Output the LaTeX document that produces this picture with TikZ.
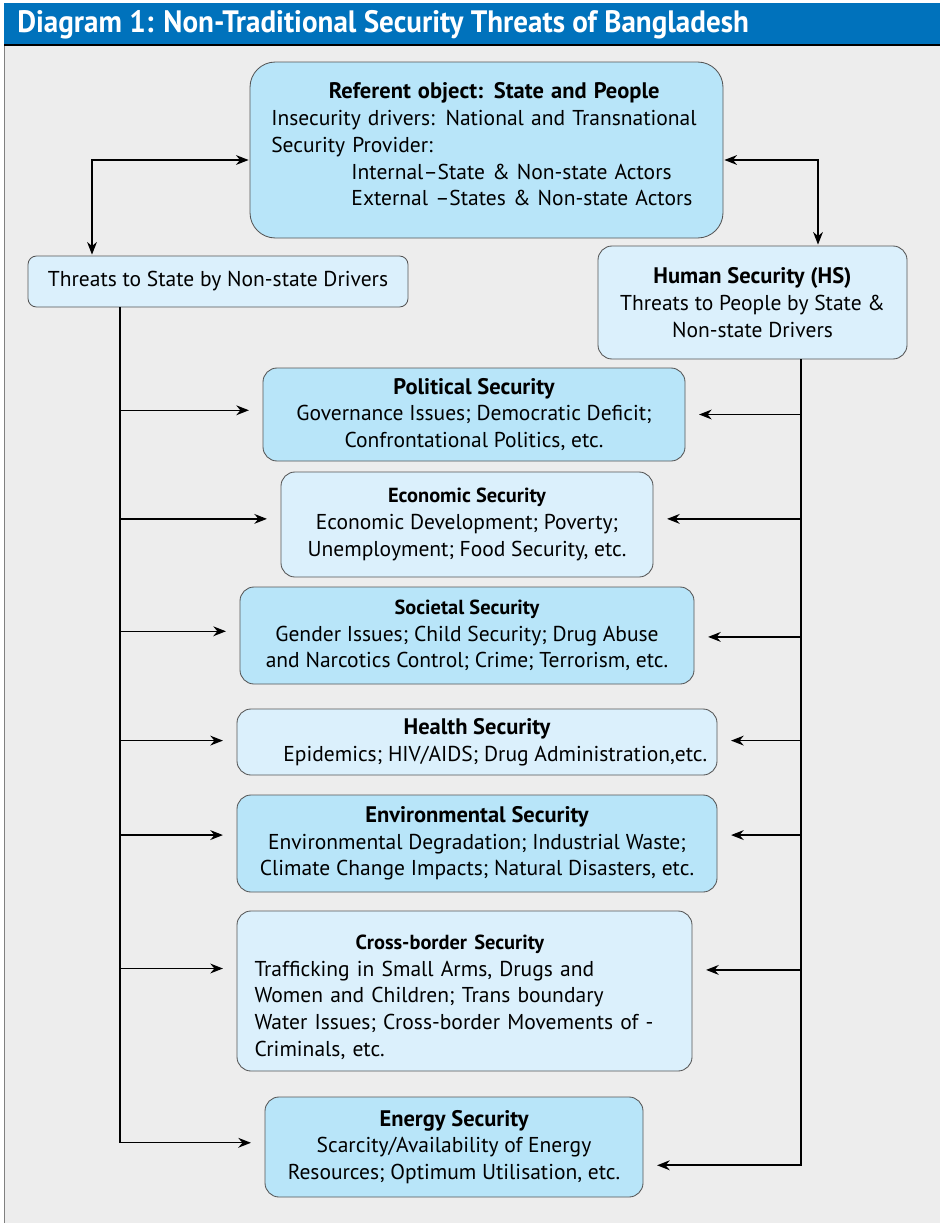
\documentclass[tikz,border=0pt]{standalone}
\usepackage{fontspec}
\setmainfont{PT Sans}
\usepackage{graphicx}
\usetikzlibrary{arrows.meta, positioning}
\definecolor{BDtitle}{HTML}{0072BC}
\definecolor{BDback}{HTML}{EDEDED}
\definecolor{BDdeep}{HTML}{B8E5F9}
\definecolor{BDpale}{HTML}{DBF0FC}
\definecolor{BDedge}{HTML}{555555}
\newlength\pxu
\setlength\pxu{0.025cm}
\newcommand\bodyfont{\fontsize{15.3}{19}\selectfont}
\newcommand\boldhead{\fontsize{16}{19}\selectfont\bfseries}
\newcommand\headfont{\fontsize{14.5}{19}\selectfont\bfseries}

\begin{document}
\begin{tikzpicture}[x=0.025cm, y=-0.025cm]
% ============================================================
%  Non-traditional security threats of Bangladesh
% ============================================================

\tikzset{
  card/.style={draw=BDedge, line width=0.6pt, rounded corners=10pt,
    anchor=north west, inner sep=0pt, outer sep=0pt,
    font=\bodyfont, align=center},
  deep/.style={card, fill=BDdeep},
  pale/.style={card, fill=BDpale},
  size/.style 2 args={minimum width=#1*\pxu, minimum height=#2*\pxu},
  link/.style={-{Stealth[length=9pt, width=7pt]}, line width=0.9pt, shorten >=10pt},
  dlink/.style={{Stealth[length=9pt, width=7pt]}-{Stealth[length=9pt, width=7pt]},
    line width=0.9pt, shorten <=1pt, shorten >=1pt},
}

  % ── Frame and title bar ───────────────────────────────────
  \useasboundingbox (0,0) rectangle (940,1223);
  \fill[white] (0,0) rectangle (940,1223);
  \fill[BDback] (4,45) rectangle (940,1223);
  \draw[gray, line width=0.6pt] (4,3) -- (4,1223);
  \fill[BDtitle] (4,3) rectangle (940,45);
  \draw[black, line width=1.2pt] (4,45) -- (940,45);
  \node[anchor=west, text=white, inner sep=0pt,
        font=\fontsize{22}{24}\selectfont\bfseries] (title) at (17,25)
    {\scalebox{0.94}[1]{Diagram 1: Non-Traditional Security Threats of Bangladesh}};

  % ── Top boxes ─────────────────────────────────────────────
  \node[deep, size={473}{176}, rounded corners=18pt, text width=436*\pxu, align=left]
    (ref) at (250,62)
    {\hspace*{43pt}{\boldhead Referent object: State and People}\\
     \hspace*{2pt}Insecurity drivers: National and Transnational\\
     \hspace*{2pt}Security Provider:\\
     \hspace*{59pt}Internal--State \& Non-state Actors\\
     \hspace*{59pt}External --States \& Non-state Actors\rule[-8pt]{0pt}{1pt}};

  \node[pale, size={380}{51}, rounded corners=6pt] (threats) at (28,256)
    {Threats to State by Non-state Drivers};

  \node[pale, size={309}{113}] (hs) at (598,246)
    {{\boldhead Human Security (HS)}\\
     Threats to People by State \&\\
     Non-state Drivers};

  % ── Security sectors ──────────────────────────────────────
  \node[deep, size={422}{93}] (pol) at (263,368)
    {{\boldhead Political Security}\\
     Governance Issues; Democratic Deficit;\\
     Confrontational Politics, etc.};

  \node[pale, size={372}{105}] (eco) at (281,472)
    {{\headfont Economic Security}\\
     Economic Development; Poverty;\\
     Unemployment; Food Security, etc.};

  \node[deep, size={454}{97}] (soc) at (240,587)
    {{\headfont Societal Security}\\
     Gender Issues; Child Security; Drug Abuse\\
     and Narcotics Control; Crime; Terrorism, etc.};

  \node[pale, size={480}{66}] (hea) at (237,709)
    {{\boldhead Health Security}\\
     \hspace*{26pt}Epidemics; HIV/AIDS; Drug Administration,etc.};

  \node[deep, size={480}{97}] (env) at (237,795)
    {{\boldhead Environmental Security}\\
     Environmental Degradation; Industrial Waste;\\
     Climate Change Impacts; Natural Disasters, etc.};

  \node[pale, size={455}{160}, text width=420*\pxu, align=left] (crs) at (237,911)
    {\rule{0pt}{19pt}\hspace*{72pt}{\headfont Cross-border Security}\\
     Trafficking in Small Arms, Drugs and\\
     Women and Children; Trans boundary\\
     Water Issues; Cross-border Movements of -\\
     Criminals, etc.};

  \node[deep, size={378}{100}] (ene) at (265,1097)
    {{\boldhead Energy Security}\\
     Scarcity/Availability of Energy\\
     Resources; Optimum Utilisation, etc.};

  % ── Connectors to the referent ────────────────────────────
  \coordinate (lknee) at (92,160);
  \coordinate (rknee) at (818,160);
  \draw[dlink] (ref.west |- lknee) -- (lknee) -- (threats.north -| lknee);
  \draw[dlink] (ref.east |- rknee) -- (rknee) -- (hs.north -| rknee);

  % ── Spines ────────────────────────────────────────────────
  \coordinate (lsp) at (120,0);
  \coordinate (rsp) at (801,0);
  \draw[link, line width=1pt] (threats.south -| lsp) |- ([yshift=3pt]ene.west);
  \draw[link, line width=1.4pt] (hs.south -| rsp) |- ([yshift=-13pt]ene.east);

  \foreach \n/\dy in {pol/3pt, eco/4pt, soc/3pt, hea/1pt, env/6pt, crs/16pt}{
    \draw[link] ([yshift=\dy]\n.west -| lsp) -- ([yshift=\dy]\n.west);
  }
  \foreach \n/\dy in {pol/0pt, eco/4pt, soc/-1pt, hea/1pt, env/6pt, crs/15pt}{
    \draw[link] ([yshift=\dy]\n.east -| rsp) -- ([yshift=\dy]\n.east);
  }

\end{tikzpicture}
\end{document}
